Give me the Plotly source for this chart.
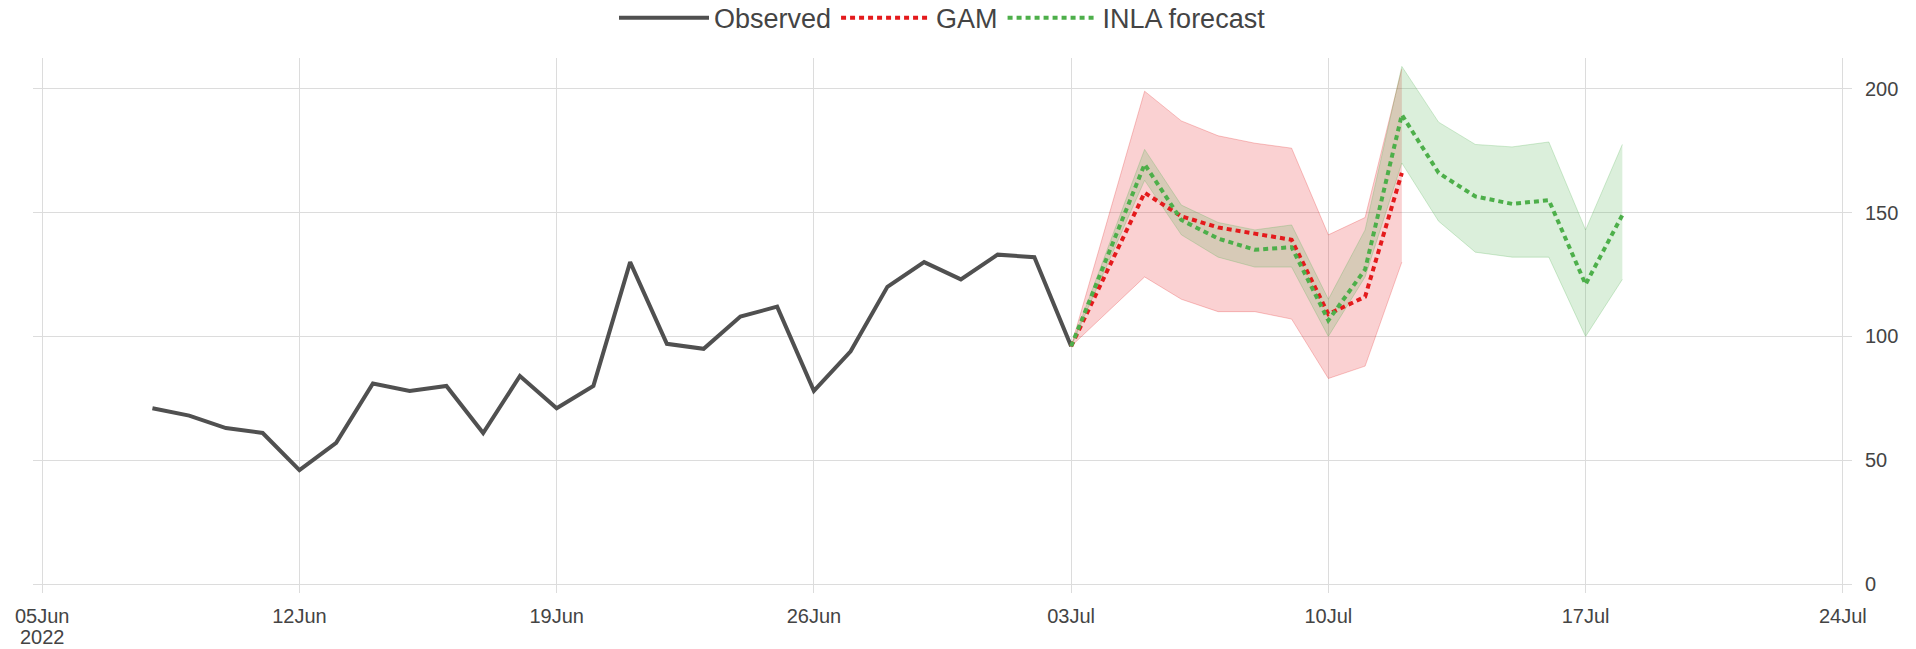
import plotly.graph_objects as go

# ---------------- data ----------------
obs_dates = ["2022-06-08", "2022-06-09", "2022-06-10", "2022-06-11", "2022-06-12", "2022-06-13",
             "2022-06-14", "2022-06-15", "2022-06-16", "2022-06-17", "2022-06-18", "2022-06-19",
             "2022-06-20", "2022-06-21", "2022-06-22", "2022-06-23", "2022-06-24", "2022-06-25",
             "2022-06-26", "2022-06-27", "2022-06-28", "2022-06-29", "2022-06-30", "2022-07-01",
             "2022-07-02", "2022-07-03"]
obs_values = [71, 68, 63, 61, 46, 57, 81, 78, 80, 61, 84, 71, 80, 130, 97, 95, 108, 112,
              78, 94, 120, 130, 123, 133, 132, 96]

gam_dates = ["2022-07-03", "2022-07-05", "2022-07-06", "2022-07-07", "2022-07-08",
             "2022-07-09", "2022-07-10", "2022-07-11", "2022-07-12"]
gam_mean = [96, 158, 148.5, 144, 141.5, 139, 109, 116, 166]
gam_lower = [96, 124, 115, 110, 110, 107, 83, 88, 130]
gam_upper = [96, 199, 187, 181, 178, 176, 141, 148, 208]

inla_dates = ["2022-07-03", "2022-07-05", "2022-07-06", "2022-07-07", "2022-07-08",
              "2022-07-09", "2022-07-10", "2022-07-11", "2022-07-12", "2022-07-13",
              "2022-07-14", "2022-07-15", "2022-07-16", "2022-07-17", "2022-07-18"]
inla_mean = [96, 169.5, 147, 139.5, 135, 136, 106.5, 127, 189.5, 166, 156.5, 153.5, 155, 121, 149]
inla_lower = [96, 163, 141, 132, 128, 128, 100, 124, 170, 146.5, 134, 132, 132, 100, 123]
inla_upper = [96, 175.5, 153, 146, 143, 145, 115, 143, 209, 186.5, 177.5, 176.5, 178.5, 143, 177.5]

tick_dates = ["2022-06-05", "2022-06-12", "2022-06-19", "2022-06-26", "2022-07-03",
              "2022-07-10", "2022-07-17", "2022-07-24"]
tick_labels = ["05Jun", "12Jun", "19Jun", "26Jun", "03Jul", "10Jul", "17Jul", "24Jul"]
year_label = "2022"
y_ticks = [0, 50, 100, 150, 200]

# ---------------- styles ----------------
OBS_COLOR = "#505050"
GAM_COLOR = "#E41A1C"
INLA_COLOR = "#4DAF4A"
FONT = "Liberation Sans, Arial, sans-serif"

fig = go.Figure()

# GAM band
fig.add_trace(go.Scatter(x=gam_dates, y=gam_upper, mode="lines",
                         line=dict(color="rgba(228,26,28,0.25)", width=1),
                         showlegend=False, hoverinfo="skip"))
fig.add_trace(go.Scatter(x=gam_dates, y=gam_lower, mode="lines", fill="tonexty",
                         fillcolor="rgba(228,26,28,0.2)",
                         line=dict(color="rgba(228,26,28,0.25)", width=1),
                         showlegend=False, hoverinfo="skip"))
# INLA band
fig.add_trace(go.Scatter(x=inla_dates, y=inla_upper, mode="lines",
                         line=dict(color="rgba(77,175,74,0.25)", width=1),
                         showlegend=False, hoverinfo="skip"))
fig.add_trace(go.Scatter(x=inla_dates, y=inla_lower, mode="lines", fill="tonexty",
                         fillcolor="rgba(77,175,74,0.2)",
                         line=dict(color="rgba(77,175,74,0.25)", width=1),
                         showlegend=False, hoverinfo="skip"))

fig.add_trace(go.Scatter(x=obs_dates, y=obs_values, mode="lines", name="Observed",
                         line=dict(color=OBS_COLOR, width=4)))
fig.add_trace(go.Scatter(x=gam_dates, y=gam_mean, mode="lines", name="GAM",
                         line=dict(color=GAM_COLOR, width=4, dash="5px,4px")))
fig.add_trace(go.Scatter(x=inla_dates, y=inla_mean, mode="lines", name="INLA forecast",
                         line=dict(color=INLA_COLOR, width=4, dash="5px,4px")))

fig.add_annotation(x=tick_dates[0], xref="x", y=-0.083, yref="paper",
                   text=year_label, showarrow=False, xanchor="center", yanchor="middle",
                   borderpad=0, font=dict(size=20, color="#444444"))

fig.update_layout(
    width=1916, height=649,
    margin=dict(l=33, r=64, t=58, b=56, autoexpand=False),
    paper_bgcolor="white", plot_bgcolor="white",
    font=dict(family=FONT, color="#444444", size=20),
    showlegend=True,
    legend=dict(orientation="h", x=0.5, xanchor="center",
                yref="container", y=0.972, yanchor="middle",
                traceorder="normal",
                font=dict(size=27, color="#444444"), itemwidth=90,
                bgcolor="rgba(0,0,0,0)"),
    hovermode=False,
)
fig.update_xaxes(
    type="date",
    range=["2022-06-04 18:00", "2022-07-24 06:00"],
    tickmode="array", tickvals=tick_dates, ticktext=tick_labels,
    showgrid=True, gridcolor="#dcdcdc", gridwidth=1.3,
    zeroline=False, showline=False,
    ticks="outside", ticklen=5, tickcolor="rgba(0,0,0,0)",
    tickfont=dict(size=20, color="#444444"),
)
fig.update_yaxes(
    side="right",
    range=[-3.6, 212.4],
    tickmode="array", tickvals=y_ticks,
    showgrid=True, gridcolor="#dcdcdc", gridwidth=1.3,
    zeroline=False, showline=False,
    ticks="outside", ticklen=8, tickcolor="rgba(0,0,0,0)",
    tickfont=dict(size=20, color="#444444"),
)

fig.write_html("out.html", config={"displayModeBar": False},
               post_script="document.body.style.margin='0';")
